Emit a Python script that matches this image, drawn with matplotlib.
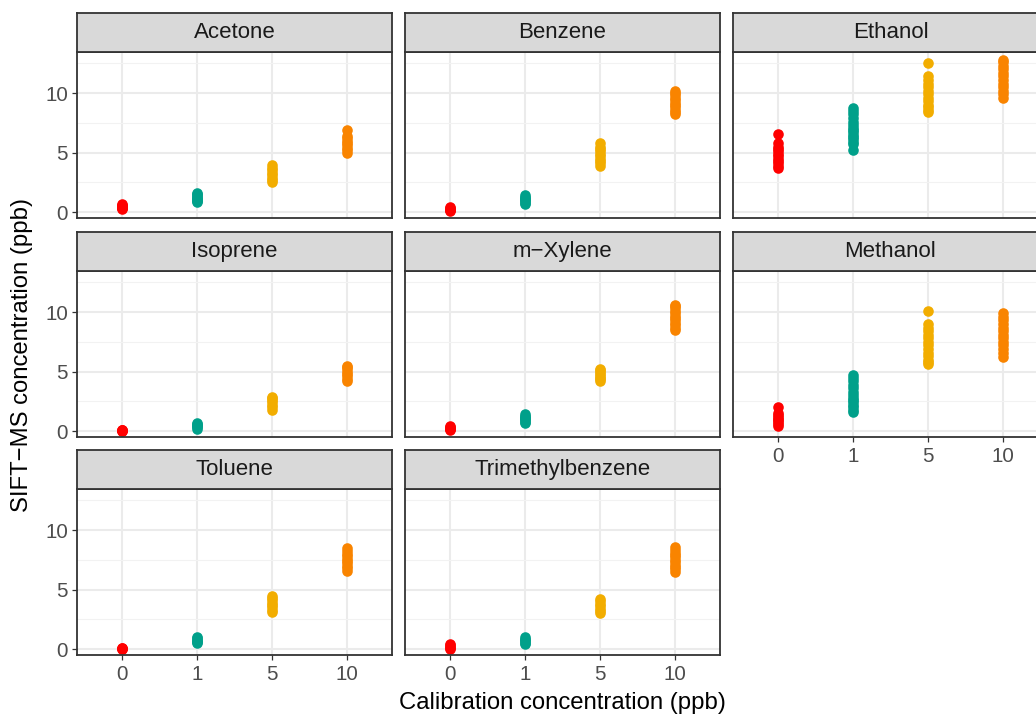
import matplotlib
matplotlib.use("Agg")
import matplotlib.pyplot as plt

plt.rcParams['font.family'] = ['Liberation Sans', 'DejaVu Sans']

# categories (calibration concentration, ppb)
conc_labels = ['0', '1', '5', '10']
colours = ['#FF0000', '#00A08A', '#F2AD00', '#F98400']

compounds = ['Acetone', 'Benzene', 'Ethanol', 'Isoprene', 'm\u2212Xylene',
             'Methanol', 'Toluene', 'Trimethylbenzene']

# SIFT-MS readings, one list per calibration level
acetone_0 = [0.25, 0.3, 0.35, 0.4, 0.45, 0.5, 0.55, 0.6, 0.7]
acetone_1 = [0.85, 0.95, 1.0, 1.1, 1.2, 1.3, 1.4, 1.5, 1.6]
acetone_5 = [2.5, 2.7, 2.9, 3.1, 3.3, 3.5, 3.7, 3.95]
acetone_10 = [5.0, 5.2, 5.4, 5.6, 5.8, 6.0, 6.2, 6.4, 6.9]

benzene_0 = [0.1, 0.15, 0.2, 0.25, 0.3, 0.4]
benzene_1 = [0.7, 0.8, 0.9, 1.0, 1.1, 1.2, 1.3, 1.45]
benzene_5 = [3.9, 4.1, 4.3, 4.5, 4.7, 4.9, 5.1, 5.3, 5.5, 5.8]
benzene_10 = [8.2, 8.4, 8.6, 8.8, 9.0, 9.2, 9.4, 9.6, 9.8, 10.0, 10.2]

ethanol_0 = [3.7, 3.9, 4.1, 4.3, 4.5, 4.7, 4.9, 5.1, 5.3, 5.5, 5.8, 6.6]
ethanol_1 = [5.2, 5.7, 5.9, 6.1, 6.3, 6.5, 6.7, 6.9, 7.1, 7.3, 7.6, 7.9, 8.2, 8.5, 8.75]
ethanol_5 = [8.4, 8.6, 8.8, 9.0, 9.3, 9.6, 9.9, 10.2, 10.5, 10.8, 11.1, 11.4, 12.5]
ethanol_10 = [9.6, 9.9, 10.2, 10.5, 10.8, 11.1, 11.4, 11.7, 12.0, 12.3, 12.6, 12.8]

isoprene_0 = [0.0, 0.02, 0.05, 0.08, 0.1]
isoprene_1 = [0.2, 0.3, 0.4, 0.5, 0.6, 0.7]
isoprene_5 = [1.8, 2.0, 2.2, 2.4, 2.6, 2.75, 2.9]
isoprene_10 = [4.2, 4.4, 4.6, 4.8, 5.0, 5.2, 5.35, 5.5]

xylene_0 = [0.1, 0.15, 0.2, 0.25, 0.3, 0.4]
xylene_1 = [0.7, 0.8, 0.9, 1.0, 1.1, 1.2, 1.3, 1.4]
xylene_5 = [4.2, 4.35, 4.5, 4.65, 4.8, 4.95, 5.1, 5.2]
xylene_10 = [8.5, 8.7, 8.9, 9.1, 9.3, 9.5, 9.7, 9.9, 10.1, 10.3, 10.5, 10.6]

methanol_0 = [0.45, 0.6, 0.75, 0.9, 1.05, 1.2, 1.35, 1.5, 2.0]
methanol_1 = [1.6, 1.8, 2.0, 2.2, 2.4, 2.6, 2.8, 3.0, 3.3, 3.6, 3.9, 4.2, 4.5, 4.7]
methanol_5 = [5.6, 5.8, 6.0, 6.3, 6.6, 6.9, 7.2, 7.5, 7.8, 8.1, 8.4, 8.7, 9.0, 10.1]
methanol_10 = [6.2, 6.6, 6.9, 7.2, 7.5, 7.8, 8.1, 8.4, 8.7, 9.0, 9.3, 9.6, 9.9]

toluene_0 = [0.0, 0.03, 0.06, 0.1]
toluene_1 = [0.5, 0.6, 0.7, 0.8, 0.9, 1.0]
toluene_5 = [3.1, 3.3, 3.5, 3.7, 3.9, 4.1, 4.3, 4.5]
toluene_10 = [6.6, 6.8, 7.0, 7.2, 7.4, 7.6, 7.8, 8.0, 8.2, 8.5]

tmb_0 = [0.0, 0.1, 0.2, 0.3, 0.4]
tmb_1 = [0.45, 0.55, 0.65, 0.75, 0.85, 1.0]
tmb_5 = [3.0, 3.2, 3.4, 3.6, 3.8, 4.0, 4.2]
tmb_10 = [6.5, 6.7, 6.9, 7.1, 7.3, 7.5, 7.7, 7.9, 8.1, 8.3, 8.6]

data = {
    'Acetone': [acetone_0, acetone_1, acetone_5, acetone_10],
    'Benzene': [benzene_0, benzene_1, benzene_5, benzene_10],
    'Ethanol': [ethanol_0, ethanol_1, ethanol_5, ethanol_10],
    'Isoprene': [isoprene_0, isoprene_1, isoprene_5, isoprene_10],
    'm\u2212Xylene': [xylene_0, xylene_1, xylene_5, xylene_10],
    'Methanol': [methanol_0, methanol_1, methanol_5, methanol_10],
    'Toluene': [toluene_0, toluene_1, toluene_5, toluene_10],
    'Trimethylbenzene': [tmb_0, tmb_1, tmb_5, tmb_10],
}

# ----------------------------------------------------------------------------------------------------
# layout (pixel units, facet_wrap style, 3 columns)
W, H = 1036, 715
fig = plt.figure(figsize=(W / 100, H / 100), dpi=100)

col_left = [77, 405, 733]
panel_w = 315
strip_top = [13, 232, 450]
strip_h = 39
panel_h = 166

dark = '#333333'

def px(left, top, w, h):
    return [left / W, 1 - (top + h) / H, w / W, h / H]

for i, name in enumerate(compounds):
    row, col = divmod(i, 3)
    left = col_left[col]
    ptop = strip_top[row] + strip_h

    ax = fig.add_axes(px(left, ptop, panel_w, panel_h))
    ax.set_xlim(0.4, 4.6)
    ax.set_ylim(-0.5, 13.45)
    ax.set_xticks([1, 2, 3, 4])
    ax.set_yticks([0, 5, 10])
    ax.set_yticks([2.5, 7.5, 12.5], minor=True)
    ax.grid(True, which='major', color='#EBEBEB', linewidth=1.5, zorder=0)
    ax.grid(True, which='minor', axis='y', color='#F2F2F2', linewidth=0.8, zorder=0)
    ax.set_axisbelow(True)
    for sp in ax.spines.values():
        sp.set_color(dark)
        sp.set_linewidth(1.3)
        sp.set_zorder(5)

    for k, vals in enumerate(data[name]):
        ax.scatter([k + 1] * len(vals), vals, s=58, color=colours[k],
                   linewidths=0, zorder=3, clip_on=False)

    ax.tick_params(which='major', length=3.5, width=0.9, color=dark,
                   labelsize=14.8, labelcolor='#4D4D4D', pad=3)
    ax.tick_params(axis='x', pad=4)
    ax.tick_params(which='minor', length=0)

    if col == 0:
        ax.set_yticklabels(['0', '5', '10'])
    else:
        ax.tick_params(axis='y', length=0, labelleft=False)

    # x labels only on the lowest panel of each column
    last_in_col = (i + 3 >= len(compounds))
    if last_in_col:
        ax.set_xticklabels(conc_labels)
    else:
        ax.tick_params(axis='x', length=0, labelbottom=False)

    # strip
    sx = fig.add_axes(px(left, strip_top[row], panel_w, strip_h))
    sx.set_facecolor('#D9D9D9')
    sx.set_xticks([])
    sx.set_yticks([])
    for sp in sx.spines.values():
        sp.set_color(dark)
        sp.set_linewidth(1.3)
    sx.text(0.5, 0.5, name, ha='center', va='center', fontsize=16,
            color='#1A1A1A', transform=sx.transAxes)

# axis titles
fig.text(22 / W, 1 - 355 / H, 'SIFT\u2212MS concentration (ppb)', rotation=90,
         ha='center', va='center', fontsize=17.2)
fig.text(562 / W, 1 - 703 / H, 'Calibration concentration (ppb)',
         ha='center', va='center', fontsize=17.2)

plt.savefig('out.png', dpi=100)
